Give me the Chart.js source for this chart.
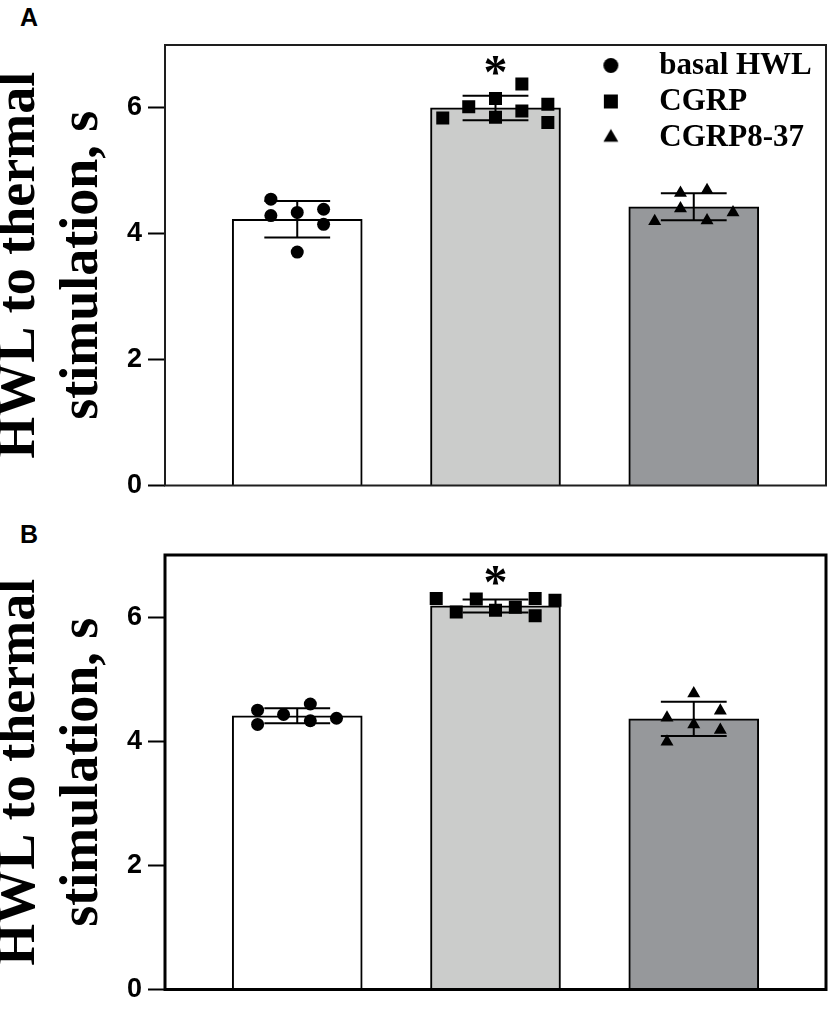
<!DOCTYPE html>
<html>
<head>
<meta charset="utf-8">
<title>HWL to thermal stimulation</title>
<script src="https://cdn.jsdelivr.net/npm/chart.js@4.4.1/dist/chart.umd.min.js"></script>
<style>
  body { margin: 0; background: #fff; width: 828px; height: 1009px; position: relative; overflow: hidden; }
  .panel { position: absolute; left: 0; width: 828px; }
  .tag { position: absolute; left: 20px; font: bold 25px "Liberation Sans", Arial, sans-serif; line-height: 25px; color: #000; }
</style>
</head>
<body>
<div class="tag" style="top:5px">A</div>
<div class="panel" style="top:0;height:505px"><canvas id="chartA"></canvas></div>
<div class="tag" style="top:522px">B</div>
<div class="panel" style="top:505px;height:504px"><canvas id="chartB"></canvas></div>

<script>
// groups and colours
const groups = ['basal HWL', 'CGRP', 'CGRP8-37'];
const barColors = ['#ffffff', '#cbcccb', '#96989b'];
const yTicks = [0, 2, 4, 6];
const yMax = 7;

// panel A: bar means, SD, individual animals (x offset in group units)
const meanA = [4.23, 6.00, 4.43];
const sdA = [0.29, 0.195, 0.215];
const starA = [null, 6.68, null];
const basalA = [4.55, 4.29, 4.34, 3.71, 4.39, 4.15];
const basalAx = [-0.133, -0.133, 0, 0, 0.133, 0.133];
const cgrpA = [5.84, 6.02, 6.15, 5.85, 6.38, 5.95, 6.06, 5.77];
const cgrpAx = [-0.266, -0.135, 0, 0, 0.133, 0.133, 0.264, 0.264];
const antaA = [4.20, 4.65, 4.40, 4.69, 4.21, 4.34];
const antaAx = [-0.197, -0.067, -0.067, 0.067, 0.067, 0.198];

// panel B
const meanB = [4.41, 6.18, 4.36];
const sdB = [0.12, 0.105, 0.275];
const starB = [null, 6.67, null];
const basalB = [4.50, 4.27, 4.43, 4.60, 4.33, 4.37];
const basalBx = [-0.2, -0.2, -0.069, 0.066, 0.066, 0.198];
const cgrpB = [6.30, 6.08, 6.29, 6.11, 6.16, 6.30, 6.02, 6.27];
const cgrpBx = [-0.299, -0.198, -0.097, 0, 0.1, 0.2, 0.2, 0.3];
const antaB = [4.77, 4.38, 4.27, 4.49, 4.18, 3.99];
const antaBx = [0, -0.135, 0, 0.134, 0.134, -0.135];

const pointStyles = ['circle', 'rect', 'triangle'];
const pointRadius = [6.5, 9.2, 7.5];

function points(group, xs, ys) {
  return ys.map((y, i) => ({ x: group + xs[i], y: y }));
}

// small canvas symbols for the legend so the spacing can be set freely
function legendSymbol(style, radius) {
  const size = Math.ceil(radius * 2 + 2);
  const c = document.createElement('canvas');
  c.width = c.height = size;
  const g = c.getContext('2d');
  g.fillStyle = '#000';
  Chart.helpers.drawPoint(g, { pointStyle: style, radius: radius, rotation: 0, borderWidth: 0 }, size / 2, size / 2);
  return c;
}
const legendSymbols = [legendSymbol('circle', 7.5), legendSymbol('rect', 9.9), legendSymbol('triangle', 8.6)];

// error bars (mean ± SD) and significance stars
const errorBars = {
  id: 'errorBars',
  afterDatasetsDraw(chart, args, opts) {
    const { ctx, scales: { x, y } } = chart;
    const cap = x.getPixelForValue(opts.cap) - x.getPixelForValue(0);
    ctx.save();
    ctx.strokeStyle = '#000';
    ctx.lineWidth = 2;
    opts.means.forEach((m, i) => {
      const cx = x.getPixelForValue(i);
      const top = y.getPixelForValue(m + opts.sd[i]);
      const bot = y.getPixelForValue(m - opts.sd[i]);
      ctx.beginPath();
      ctx.moveTo(cx, top); ctx.lineTo(cx, bot);
      ctx.moveTo(cx - cap, top); ctx.lineTo(cx + cap, top);
      ctx.moveTo(cx - cap, bot); ctx.lineTo(cx + cap, bot);
      ctx.stroke();
    });
    ctx.fillStyle = '#000';
    ctx.font = 'bold 48px "Liberation Serif", "Times New Roman", serif';
    ctx.textAlign = 'center';
    ctx.textBaseline = 'alphabetic';
    opts.stars.forEach((v, i) => {
      if (v === null) return;
      const m = ctx.measureText('*');
      const cy = y.getPixelForValue(v) + (m.actualBoundingBoxAscent - m.actualBoundingBoxDescent) / 2;
      ctx.fillText('*', x.getPixelForValue(i), cy);
    });
    ctx.restore();
  }
};

// box round the plot area
const frame = {
  id: 'frame',
  afterDatasetsDraw(chart, args, opts) {
    const { ctx, chartArea: a } = chart;
    ctx.save();
    ctx.strokeStyle = opts.color;
    ctx.lineWidth = opts.width;
    ctx.strokeRect(a.left, a.top, a.right - a.left, a.bottom - a.top);
    ctx.restore();
  }
};

// put the legend at the upper right inside the plot
const legendPlace = {
  id: 'legendPlace',
  afterLayout(chart, args, opts) {
    if (!chart.legend || !opts.x) return;
    const a = chart.chartArea;
    chart.legend.left = chart.scales.x.getPixelForValue(opts.x);
    chart.legend.right = a.right;
    chart.legend.top = a.top;
    chart.legend.bottom = a.bottom;
  }
};

function makeChart(id, means, sd, stars, basal, basalX, cgrp, cgrpX, anta, antaX, pad, frameStyle, showLegend) {
  const sets = [[basal, basalX], [cgrp, cgrpX], [anta, antaX]];
  return new Chart(document.getElementById(id), {
    type: 'bar',
    data: {
      datasets: [{
        type: 'bar',
        label: 'mean',
        data: means.map((m, i) => ({ x: i, y: m })),
        backgroundColor: barColors,
        borderColor: '#000',
        borderWidth: 2,
        barThickness: 130,
        order: 2
      }].concat(sets.map((s, g) => ({
        type: 'scatter',
        label: groups[g],
        data: points(g, s[1], s[0]),
        pointStyle: pointStyles[g],
        pointRadius: pointRadius[g],
        backgroundColor: '#000',
        borderWidth: 0,
        order: 1
      })))
    },
    options: {
      responsive: true,
      maintainAspectRatio: false,
      animation: false,
      events: [],
      layout: { autoPadding: false, padding: { top: pad.top, right: 2, bottom: pad.bottom, left: 0 } },
      scales: {
        x: {
          type: 'linear',
          display: false,
          offset: false,
          min: -0.667,
          max: 2.667
        },
        y: {
          min: 0,
          max: yMax,
          afterBuildTicks: s => { s.ticks = yTicks.map(v => ({ value: v })); },
          afterFit: s => { s.width = 165; },
          border: { display: false },
          grid: { drawOnChartArea: false, drawTicks: true, tickLength: 17, tickWidth: 2, tickColor: '#000' },
          ticks: {
            color: '#000',
            padding: 6,
            font: { family: '"Liberation Sans", Arial, sans-serif', weight: 'bold', size: 27, lineHeight: 1 }
          },
          title: {
            display: true,
            text: ['HWL to thermal', 'stimulation, s'],
            color: '#000',
            padding: { top: -12, bottom: 0 },
            font: { family: '"Liberation Serif", "Times New Roman", serif', weight: 'bold', size: 54, lineHeight: 1.17 }
          }
        }
      },
      plugins: {
        tooltip: { enabled: false },
        legend: {
          display: showLegend,
          position: 'chartArea',
          align: 'start',
          labels: {
            usePointStyle: true,
            pointStyleWidth: 66,
            padding: 5,
            color: '#000',
            font: { family: '"Liberation Serif", "Times New Roman", serif', weight: 'bold', size: 31 },
            generateLabels: chart => {
              const items = Chart.defaults.plugins.legend.labels.generateLabels(chart);
              items.forEach(it => { if (it.datasetIndex > 0) it.pointStyle = legendSymbols[it.datasetIndex - 1]; });
              return items;
            },
            filter: item => item.datasetIndex > 0
          }
        },
        legendPlace: { x: showLegend ? 1.39 : null },
        frame: frameStyle,
        errorBars: { means: means, sd: sd, stars: stars, cap: 0.166 }
      }
    },
    plugins: [frame, errorBars, legendPlace]
  });
}

makeChart('chartA', meanA, sdA, starA, basalA, basalAx, cgrpA, cgrpAx, antaA, antaAx,
  { top: 45, bottom: 19 }, { color: '#1e1e1e', width: 2 }, true);
makeChart('chartB', meanB, sdB, starB, basalB, basalBx, cgrpB, cgrpBx, antaB, antaBx,
  { top: 50, bottom: 14 }, { color: '#000', width: 3 }, false);
</script>
</body>
</html>
